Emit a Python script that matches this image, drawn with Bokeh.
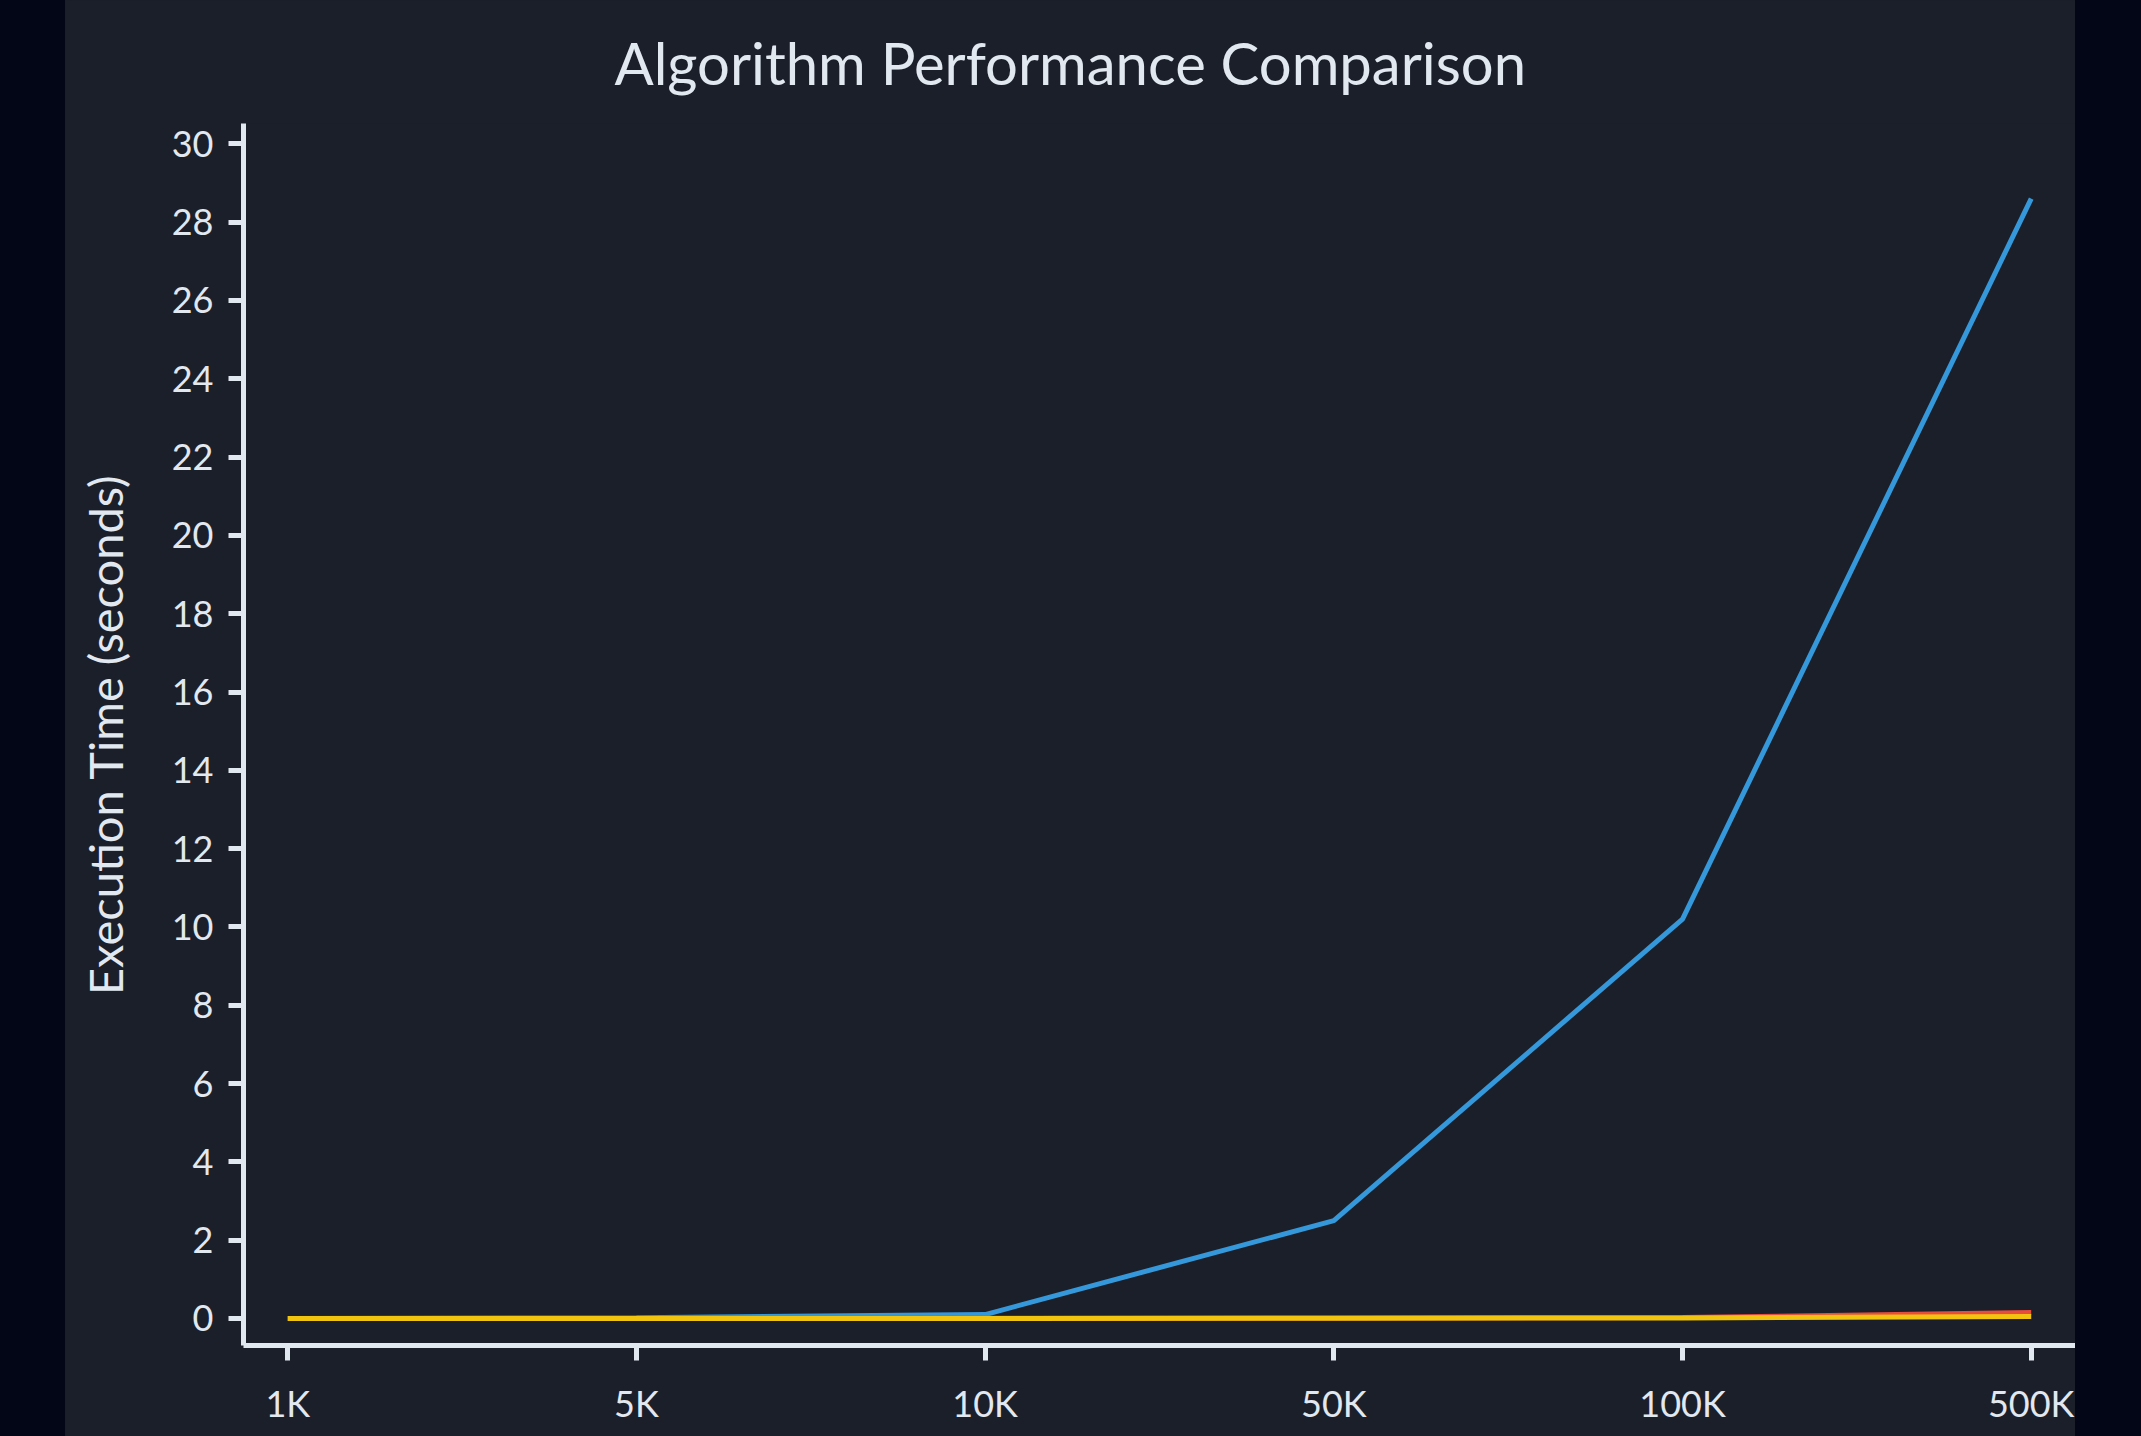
from bokeh.plotting import figure
from bokeh.models import Range1d, FixedTicker, Spacer, Row, Title
from bokeh.embed import file_html
from bokeh.resources import INLINE

# ---- data ----
sizes = ["1K", "5K", "10K", "50K", "100K", "500K"]
bubble_sort = [0.0, 0.02, 0.1, 2.5, 10.2, 28.6]
merge_sort = [0.0, 0.001, 0.003, 0.012, 0.025, 0.15]
quick_sort = [0.0, 0.0005, 0.001, 0.006, 0.012, 0.05]
y_ticks = list(range(0, 31, 2))

OUTER = "#020617"
PANEL = "#1b1f2a"
TEXT = "#e2e8f0"
FONT = "Lato"

x_idx = list(range(len(sizes)))

p = figure(width=2010, height=1436, output_backend="svg", toolbar_location=None,
           x_range=Range1d(-0.127, len(sizes) - 1 + 0.127),
           y_range=Range1d(-0.69, 30.52),
           min_border_left=178, min_border_right=0, min_border_top=123, min_border_bottom=91)

p.background_fill_color = None
p.border_fill_color = PANEL
p.outline_line_color = None
p.grid.visible = False

p.line(x_idx, bubble_sort, line_color="#3498db", line_width=5)
p.line(x_idx, merge_sort, line_color="#e74c3c", line_width=5)
p.line(x_idx, quick_sort, line_color="#f1c40f", line_width=5)

xa = p.xaxis[0]
xa.ticker = FixedTicker(ticks=x_idx)
xa.major_label_overrides = {i: s for i, s in zip(x_idx, sizes)}
ya = p.yaxis[0]
ya.ticker = FixedTicker(ticks=y_ticks)
ya.axis_label = "Execution Time (seconds)"

for ax in (xa, ya):
    ax.axis_line_color = TEXT
    ax.axis_line_width = 5
    ax.major_tick_line_color = TEXT
    ax.major_tick_line_width = 5
    ax.major_tick_out = 15
    ax.major_tick_in = 0
    ax.minor_tick_line_color = None
    ax.major_label_text_color = TEXT
    ax.major_label_text_font = FONT
    ax.major_label_text_font_size = "36px"
    ax.axis_label_text_color = TEXT
    ax.axis_label_text_font = FONT
    ax.axis_label_text_font_size = "47px"
    ax.axis_label_text_font_style = "normal"
xa.major_label_standoff = 20
ya.major_label_standoff = 15
ya.axis_label_standoff = 36

title = Title(text="Algorithm Performance Comparison", align="left", offset=371,
              vertical_align="top",
              text_font=FONT, text_font_size="58px", text_color=TEXT,
              text_font_style="normal", standoff=49)
p.add_layout(title, "above")

left = Spacer(width=65, height=1436, styles={"background-color": OUTER})
right = Spacer(width=66, height=1436, styles={"background-color": OUTER})
layout = Row(children=[left, p, right], spacing=0,
             styles={"background-color": PANEL})

open("out.html", "w").write(file_html(layout, INLINE))
